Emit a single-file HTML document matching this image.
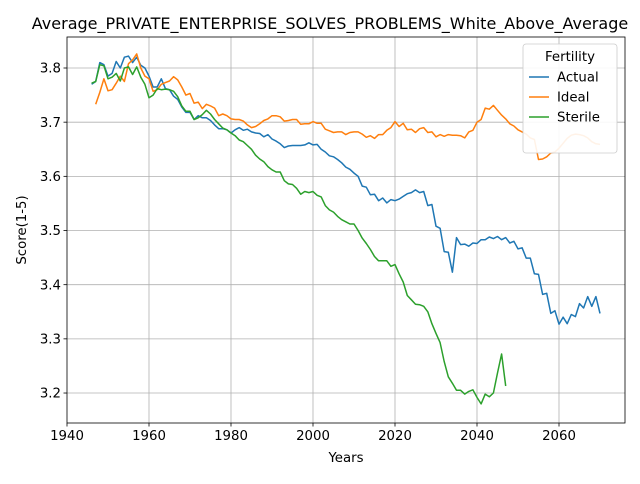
<!DOCTYPE html>
<html><head><meta charset="utf-8"><style>
body{margin:0;background:#fff;font-family:"DejaVu Sans","Liberation Sans",sans-serif}
svg text{font-family:"DejaVu Sans","Liberation Sans",sans-serif}
</style></head><body>
<svg id="chart" width="640" height="480"></svg>
<script>
const years = {actual:1946, ideal:1947, sterile:1946};
const actualValues=[3.77,3.775,3.81,3.806,3.785,3.79,3.812,3.80,3.82,3.822,3.81,3.82,3.805,3.80,3.785,3.765,3.765,3.78,3.762,3.76,3.748,3.742,3.728,3.718,3.718,3.705,3.712,3.708,3.708,3.703,3.695,3.688,3.688,3.686,3.68,3.686,3.69,3.685,3.687,3.682,3.68,3.679,3.673,3.677,3.669,3.665,3.66,3.653,3.656,3.657,3.657,3.657,3.658,3.662,3.658,3.659,3.65,3.645,3.638,3.636,3.631,3.625,3.617,3.613,3.606,3.6,3.582,3.58,3.566,3.567,3.555,3.56,3.551,3.557,3.555,3.558,3.563,3.568,3.57,3.575,3.57,3.572,3.546,3.548,3.508,3.504,3.461,3.46,3.423,3.487,3.474,3.475,3.471,3.477,3.476,3.483,3.483,3.488,3.485,3.489,3.483,3.487,3.477,3.48,3.466,3.468,3.449,3.449,3.42,3.419,3.382,3.384,3.347,3.352,3.327,3.34,3.328,3.345,3.341,3.365,3.357,3.378,3.36,3.378,3.347];
const idealValues=[3.733,3.755,3.78,3.758,3.76,3.772,3.785,3.775,3.808,3.815,3.826,3.8,3.785,3.78,3.757,3.76,3.77,3.773,3.776,3.784,3.778,3.765,3.75,3.753,3.735,3.737,3.725,3.733,3.73,3.726,3.712,3.715,3.712,3.706,3.705,3.705,3.702,3.695,3.69,3.692,3.697,3.703,3.706,3.712,3.712,3.71,3.702,3.703,3.705,3.705,3.696,3.697,3.697,3.701,3.698,3.698,3.687,3.684,3.681,3.682,3.682,3.677,3.681,3.682,3.682,3.678,3.672,3.675,3.67,3.677,3.677,3.685,3.69,3.701,3.692,3.698,3.686,3.687,3.681,3.688,3.69,3.681,3.682,3.673,3.677,3.674,3.677,3.676,3.676,3.675,3.671,3.682,3.685,3.7,3.705,3.726,3.724,3.731,3.722,3.713,3.706,3.697,3.693,3.686,3.682,3.678,3.671,3.668,3.631,3.632,3.636,3.643,3.645,3.652,3.661,3.67,3.676,3.678,3.677,3.675,3.671,3.664,3.66,3.659];
const sterileValues=[3.772,3.775,3.806,3.804,3.78,3.783,3.79,3.776,3.8,3.802,3.788,3.802,3.783,3.77,3.745,3.75,3.762,3.76,3.761,3.76,3.757,3.747,3.73,3.72,3.72,3.705,3.708,3.714,3.722,3.715,3.705,3.697,3.689,3.686,3.68,3.675,3.667,3.664,3.657,3.65,3.639,3.632,3.627,3.618,3.612,3.608,3.608,3.592,3.586,3.585,3.578,3.567,3.572,3.57,3.572,3.565,3.562,3.546,3.538,3.534,3.526,3.52,3.516,3.512,3.512,3.5,3.486,3.476,3.465,3.452,3.444,3.444,3.444,3.434,3.437,3.42,3.405,3.38,3.372,3.364,3.363,3.36,3.35,3.328,3.31,3.293,3.258,3.23,3.218,3.205,3.205,3.198,3.203,3.206,3.192,3.18,3.198,3.193,3.2,3.237,3.272,3.213];
const xTicks=[1940,1960,1980,2000,2020,2040,2060];
const yTicks=[3.2,3.3,3.4,3.5,3.6,3.7,3.8];
const seriesNames=["Actual","Ideal","Sterile"];

const L=67,R=625,T=37,B=423;
const xs=yr=>67+(yr-1940)*4.1;
const ys=v=>68+(3.8-v)*541.7;
const NS="http://www.w3.org/2000/svg";
const svg=document.getElementById('chart');
function mk(tag,attrs,parent){const e=document.createElementNS(NS,tag);for(const k in attrs)e.setAttribute(k,attrs[k]);(parent||svg).appendChild(e);return e;}

const grid=mk('g',{});


xTicks.forEach(t=>{const x=xs(t);
 if(x>L+1) mk('line',{x1:x,x2:x,y1:T,y2:B,stroke:'#b0b0b0','stroke-width':0.8},grid);
 mk('line',{x1:x,x2:x,y1:B,y2:B+3.5,stroke:'#000','stroke-width':0.8});
 const tx=mk('text',{x:x,y:B+17,'font-size':13.3,'text-anchor':'middle'});tx.textContent=t;
 
 
});
yTicks.forEach(t=>{const y=ys(t);
 mk('line',{x1:L,x2:R,y1:y,y2:y,stroke:'#b0b0b0','stroke-width':0.8},grid);
 mk('line',{x1:L-3.5,x2:L,y1:y,y2:y,stroke:'#000','stroke-width':0.8});
 const tx=mk('text',{x:L-6,y:y+4.7,'font-size':13.3,'text-anchor':'end'});tx.textContent=t.toFixed(1);
 
 
});
const colors=['#1f77b4','#ff7f0e','#2ca02c'];
const data=[[years.actual,actualValues],[years.ideal,idealValues],[years.sterile,sterileValues]];
data.forEach((d,i)=>{
 const pts=d[1].map((v,j)=>xs(d[0]+j).toFixed(1)+','+ys(v).toFixed(1)).join(' ');
 const p=mk('polyline',{points:pts,fill:'none',stroke:colors[i],'stroke-width':1.5,'stroke-linejoin':'round'});
 
 
});
mk('rect',{x:L,y:T,width:R-L,height:B-T,fill:'none',stroke:'#000','stroke-width':0.8});
const title=mk('text',{x:330,y:29,'font-size':16,'text-anchor':'middle'});title.textContent='Average_PRIVATE_ENTERPRISE_SOLVES_PROBLEMS_White_Above_Average';


const xl=mk('text',{x:(L+R)/2,y:462,'font-size':13.3,'text-anchor':'middle'});xl.textContent='Years';


const yl=mk('text',{x:0,y:0,'font-size':13.3,'text-anchor':'middle',transform:'translate(26,230) rotate(-90)'});yl.textContent='Score(1-5)';


const lg=mk('g',{});


mk('rect',{x:523,y:44,width:94,height:109,rx:3,fill:'#fff','fill-opacity':0.9,stroke:'#ccc','stroke-width':0.8},lg);
const lt=mk('text',{x:570,y:61,'font-size':13.3,'text-anchor':'middle'},lg);lt.textContent='Fertility';
seriesNames.forEach((n,i)=>{const y=77+i*20;
 mk('line',{x1:529,x2:549,y1:y,y2:y,stroke:colors[i],'stroke-width':1.5},lg);
 const t=mk('text',{x:557,y:y+4.7,'font-size':13.3},lg);t.textContent=n;
 
 
});
</script>
</body></html>
